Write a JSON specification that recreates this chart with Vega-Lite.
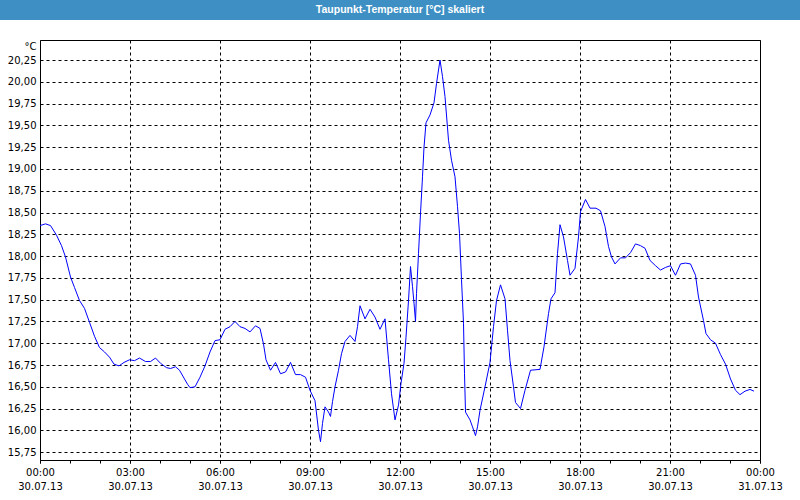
{
  "$schema": "https://vega.github.io/schema/vega-lite/v6.json",
  "padding": 0,
  "background": "#ffffff",
  "columns": 1,
  "spacing": 20,
  "align": "none",
  "config": {"font": "DejaVu Sans"},
  "datasets": {
    "taupunkt": [
      {"t": "2013-07-30T00:00", "v": 18.35},
      {"t": "2013-07-30T00:11", "v": 18.37},
      {"t": "2013-07-30T00:21", "v": 18.35},
      {"t": "2013-07-30T00:33", "v": 18.24},
      {"t": "2013-07-30T00:43", "v": 18.12},
      {"t": "2013-07-30T00:51", "v": 17.99},
      {"t": "2013-07-30T01:01", "v": 17.76},
      {"t": "2013-07-30T01:09", "v": 17.64},
      {"t": "2013-07-30T01:19", "v": 17.49},
      {"t": "2013-07-30T01:29", "v": 17.40},
      {"t": "2013-07-30T01:39", "v": 17.24},
      {"t": "2013-07-30T01:49", "v": 17.08},
      {"t": "2013-07-30T01:59", "v": 16.95},
      {"t": "2013-07-30T02:09", "v": 16.90},
      {"t": "2013-07-30T02:19", "v": 16.84},
      {"t": "2013-07-30T02:28", "v": 16.76},
      {"t": "2013-07-30T02:38", "v": 16.74},
      {"t": "2013-07-30T02:48", "v": 16.78},
      {"t": "2013-07-30T02:59", "v": 16.81},
      {"t": "2013-07-30T03:09", "v": 16.80},
      {"t": "2013-07-30T03:19", "v": 16.83},
      {"t": "2013-07-30T03:31", "v": 16.79},
      {"t": "2013-07-30T03:41", "v": 16.79},
      {"t": "2013-07-30T03:51", "v": 16.83},
      {"t": "2013-07-30T04:01", "v": 16.77},
      {"t": "2013-07-30T04:13", "v": 16.72},
      {"t": "2013-07-30T04:21", "v": 16.71},
      {"t": "2013-07-30T04:31", "v": 16.73},
      {"t": "2013-07-30T04:39", "v": 16.69},
      {"t": "2013-07-30T04:49", "v": 16.59},
      {"t": "2013-07-30T04:55", "v": 16.53},
      {"t": "2013-07-30T05:00", "v": 16.49},
      {"t": "2013-07-30T05:10", "v": 16.50},
      {"t": "2013-07-30T05:20", "v": 16.61},
      {"t": "2013-07-30T05:30", "v": 16.74},
      {"t": "2013-07-30T05:40", "v": 16.90},
      {"t": "2013-07-30T05:50", "v": 17.03},
      {"t": "2013-07-30T06:00", "v": 17.04},
      {"t": "2013-07-30T06:10", "v": 17.16},
      {"t": "2013-07-30T06:20", "v": 17.19},
      {"t": "2013-07-30T06:30", "v": 17.25},
      {"t": "2013-07-30T06:40", "v": 17.19},
      {"t": "2013-07-30T06:50", "v": 17.17},
      {"t": "2013-07-30T07:00", "v": 17.13},
      {"t": "2013-07-30T07:11", "v": 17.20},
      {"t": "2013-07-30T07:20", "v": 17.17},
      {"t": "2013-07-30T07:27", "v": 16.99},
      {"t": "2013-07-30T07:32", "v": 16.81},
      {"t": "2013-07-30T07:41", "v": 16.69},
      {"t": "2013-07-30T07:51", "v": 16.78},
      {"t": "2013-07-30T08:01", "v": 16.65},
      {"t": "2013-07-30T08:11", "v": 16.67},
      {"t": "2013-07-30T08:21", "v": 16.78},
      {"t": "2013-07-30T08:31", "v": 16.64},
      {"t": "2013-07-30T08:41", "v": 16.64},
      {"t": "2013-07-30T08:51", "v": 16.61},
      {"t": "2013-07-30T09:00", "v": 16.46},
      {"t": "2013-07-30T09:10", "v": 16.34},
      {"t": "2013-07-30T09:17", "v": 16.00},
      {"t": "2013-07-30T09:21", "v": 15.87},
      {"t": "2013-07-30T09:25", "v": 16.08},
      {"t": "2013-07-30T09:30", "v": 16.27},
      {"t": "2013-07-30T09:37", "v": 16.21},
      {"t": "2013-07-30T09:41", "v": 16.16},
      {"t": "2013-07-30T09:45", "v": 16.33},
      {"t": "2013-07-30T09:50", "v": 16.50},
      {"t": "2013-07-30T09:57", "v": 16.69},
      {"t": "2013-07-30T10:03", "v": 16.88},
      {"t": "2013-07-30T10:10", "v": 17.02},
      {"t": "2013-07-30T10:20", "v": 17.09},
      {"t": "2013-07-30T10:30", "v": 17.02},
      {"t": "2013-07-30T10:35", "v": 17.19},
      {"t": "2013-07-30T10:40", "v": 17.43},
      {"t": "2013-07-30T10:50", "v": 17.28},
      {"t": "2013-07-30T11:00", "v": 17.39},
      {"t": "2013-07-30T11:10", "v": 17.30},
      {"t": "2013-07-30T11:20", "v": 17.16},
      {"t": "2013-07-30T11:30", "v": 17.28},
      {"t": "2013-07-30T11:37", "v": 16.81},
      {"t": "2013-07-30T11:43", "v": 16.42},
      {"t": "2013-07-30T11:50", "v": 16.12},
      {"t": "2013-07-30T11:57", "v": 16.29},
      {"t": "2013-07-30T12:02", "v": 16.54},
      {"t": "2013-07-30T12:08", "v": 16.77},
      {"t": "2013-07-30T12:12", "v": 17.07},
      {"t": "2013-07-30T12:17", "v": 17.49},
      {"t": "2013-07-30T12:21", "v": 17.88},
      {"t": "2013-07-30T12:25", "v": 17.65},
      {"t": "2013-07-30T12:28", "v": 17.46},
      {"t": "2013-07-30T12:31", "v": 17.25},
      {"t": "2013-07-30T12:33", "v": 17.57},
      {"t": "2013-07-30T12:37", "v": 18.03},
      {"t": "2013-07-30T12:41", "v": 18.49},
      {"t": "2013-07-30T12:45", "v": 18.91},
      {"t": "2013-07-30T12:48", "v": 19.25},
      {"t": "2013-07-30T12:52", "v": 19.53},
      {"t": "2013-07-30T13:00", "v": 19.62},
      {"t": "2013-07-30T13:08", "v": 19.76},
      {"t": "2013-07-30T13:13", "v": 19.98},
      {"t": "2013-07-30T13:20", "v": 20.25},
      {"t": "2013-07-30T13:25", "v": 20.06},
      {"t": "2013-07-30T13:30", "v": 19.83},
      {"t": "2013-07-30T13:37", "v": 19.33},
      {"t": "2013-07-30T13:43", "v": 19.10},
      {"t": "2013-07-30T13:50", "v": 18.91},
      {"t": "2013-07-30T13:55", "v": 18.57},
      {"t": "2013-07-30T13:59", "v": 18.26},
      {"t": "2013-07-30T14:03", "v": 17.73},
      {"t": "2013-07-30T14:07", "v": 17.23},
      {"t": "2013-07-30T14:09", "v": 16.65},
      {"t": "2013-07-30T14:11", "v": 16.21},
      {"t": "2013-07-30T14:20", "v": 16.12},
      {"t": "2013-07-30T14:25", "v": 16.04},
      {"t": "2013-07-30T14:31", "v": 15.94},
      {"t": "2013-07-30T14:35", "v": 16.04},
      {"t": "2013-07-30T14:40", "v": 16.23},
      {"t": "2013-07-30T14:50", "v": 16.50},
      {"t": "2013-07-30T15:00", "v": 16.78},
      {"t": "2013-07-30T15:07", "v": 17.19},
      {"t": "2013-07-30T15:13", "v": 17.49},
      {"t": "2013-07-30T15:21", "v": 17.67},
      {"t": "2013-07-30T15:30", "v": 17.51},
      {"t": "2013-07-30T15:35", "v": 17.15},
      {"t": "2013-07-30T15:40", "v": 16.80},
      {"t": "2013-07-30T15:47", "v": 16.50},
      {"t": "2013-07-30T15:51", "v": 16.32},
      {"t": "2013-07-30T16:01", "v": 16.25},
      {"t": "2013-07-30T16:10", "v": 16.46},
      {"t": "2013-07-30T16:21", "v": 16.69},
      {"t": "2013-07-30T16:40", "v": 16.70},
      {"t": "2013-07-30T16:48", "v": 16.96},
      {"t": "2013-07-30T16:57", "v": 17.34},
      {"t": "2013-07-30T17:02", "v": 17.51},
      {"t": "2013-07-30T17:10", "v": 17.58},
      {"t": "2013-07-30T17:15", "v": 18.03},
      {"t": "2013-07-30T17:20", "v": 18.36},
      {"t": "2013-07-30T17:27", "v": 18.22},
      {"t": "2013-07-30T17:35", "v": 17.95},
      {"t": "2013-07-30T17:40", "v": 17.78},
      {"t": "2013-07-30T17:50", "v": 17.86},
      {"t": "2013-07-30T17:57", "v": 18.22},
      {"t": "2013-07-30T18:01", "v": 18.51},
      {"t": "2013-07-30T18:11", "v": 18.65},
      {"t": "2013-07-30T18:20", "v": 18.55},
      {"t": "2013-07-30T18:32", "v": 18.55},
      {"t": "2013-07-30T18:41", "v": 18.52},
      {"t": "2013-07-30T18:50", "v": 18.34},
      {"t": "2013-07-30T18:57", "v": 18.11},
      {"t": "2013-07-30T19:03", "v": 17.99},
      {"t": "2013-07-30T19:10", "v": 17.91},
      {"t": "2013-07-30T19:21", "v": 17.98},
      {"t": "2013-07-30T19:31", "v": 17.98},
      {"t": "2013-07-30T19:41", "v": 18.04},
      {"t": "2013-07-30T19:51", "v": 18.14},
      {"t": "2013-07-30T20:01", "v": 18.12},
      {"t": "2013-07-30T20:10", "v": 18.09},
      {"t": "2013-07-30T20:20", "v": 17.95},
      {"t": "2013-07-30T20:31", "v": 17.89},
      {"t": "2013-07-30T20:41", "v": 17.84},
      {"t": "2013-07-30T20:51", "v": 17.87},
      {"t": "2013-07-30T21:01", "v": 17.89},
      {"t": "2013-07-30T21:11", "v": 17.78},
      {"t": "2013-07-30T21:21", "v": 17.91},
      {"t": "2013-07-30T21:31", "v": 17.92},
      {"t": "2013-07-30T21:41", "v": 17.91},
      {"t": "2013-07-30T21:51", "v": 17.78},
      {"t": "2013-07-30T21:57", "v": 17.53},
      {"t": "2013-07-30T22:07", "v": 17.26},
      {"t": "2013-07-30T22:12", "v": 17.11},
      {"t": "2013-07-30T22:21", "v": 17.04},
      {"t": "2013-07-30T22:31", "v": 17.00},
      {"t": "2013-07-30T22:41", "v": 16.87},
      {"t": "2013-07-30T22:51", "v": 16.76},
      {"t": "2013-07-30T23:01", "v": 16.59},
      {"t": "2013-07-30T23:11", "v": 16.46},
      {"t": "2013-07-30T23:20", "v": 16.41},
      {"t": "2013-07-30T23:30", "v": 16.45},
      {"t": "2013-07-30T23:40", "v": 16.47},
      {"t": "2013-07-30T23:48", "v": 16.45}
    ]
  },
  "concat": [
    {
      "width": 800,
      "height": 20,
      "view": {"fill": "#3d8fc4", "stroke": null},
      "data": {"values": [{"title": "Taupunkt-Temperatur [°C] skaliert"}]},
      "mark": {"type": "text", "color": "#ffffff", "font": "Liberation Sans", "fontWeight": "bold", "fontSize": 10.5, "baseline": "middle", "align": "center"},
      "encoding": {"text": {"field": "title", "type": "nominal"}}
    },
    {
      "width": 760,
      "height": 420,
      "view": {"stroke": null, "fill": null},
      "data": {"name": "taupunkt"},
      "resolve": {"axis": {"x": "independent", "y": "independent"}},
      "layer": [
        {
          "mark": {"type": "line", "color": "#0000ff", "strokeWidth": 1},
          "encoding": {
            "x": {
              "field": "t",
              "type": "temporal",
              "scale": {"domain": [{"year": 2013, "month": 7, "date": 30, "hours": 0}, {"year": 2013, "month": 7, "date": 31, "hours": 0}], "nice": false, "range": [40, 760]},
              "axis": {
                "orient": "bottom",
                "title": null,
                "values": [
                  {"year": 2013, "month": 7, "date": 30, "hours": 0},
                  {"year": 2013, "month": 7, "date": 30, "hours": 3},
                  {"year": 2013, "month": 7, "date": 30, "hours": 6},
                  {"year": 2013, "month": 7, "date": 30, "hours": 9},
                  {"year": 2013, "month": 7, "date": 30, "hours": 12},
                  {"year": 2013, "month": 7, "date": 30, "hours": 15},
                  {"year": 2013, "month": 7, "date": 30, "hours": 18},
                  {"year": 2013, "month": 7, "date": 30, "hours": 21},
                  {"year": 2013, "month": 7, "date": 31, "hours": 0}
                ],
                "labelExpr": "[timeFormat(datum.value, '%H:%M'), timeFormat(datum.value, '%d.%m.%y')]",
                "labelAngle": 0,
                "labelOverlap": false,
                "labelFlush": false,
                "labelBound": false,
                "labelPadding": 4,
                "labelLineHeight": 14,
                "labelFontSize": 10,
                "labelColor": "#000000",
                "tickSize": 3,
                "tickColor": "#000000",
                "domainColor": "#000000",
                "grid": true,
                "gridColor": "#000000",
                "gridDash": [3, 3],
                "gridOpacity": 1
              }
            },
            "y": {
              "field": "v",
              "type": "quantitative",
              "scale": {"domain": [15.66, 20.48], "nice": false, "zero": false},
              "axis": {
                "orient": "left",
                "offset": -40,
                "values": [15.75, 16, 16.25, 16.5, 16.75, 17, 17.25, 17.5, 17.75, 18, 18.25, 18.5, 18.75, 19, 19.25, 19.5, 19.75, 20, 20.25],
                "labelExpr": "replace(format(datum.value, '.2f'), '.', ',')",
                "labelFontSize": 10,
                "labelColor": "#000000",
                "labelPadding": 4,
                "ticks": false,
                "domainColor": "#000000",
                "grid": true,
                "gridColor": "#000000",
                "gridDash": [3, 3],
                "gridOpacity": 1,
                "title": "°C",
                "titleAngle": 0,
                "titleAlign": "right",
                "titleBaseline": "middle",
                "titleX": -4,
                "titleY": 6,
                "titleFontSize": 10,
                "titleFontWeight": "normal",
                "titleColor": "#000000"
              }
            }
          }
        },
        {
          "mark": {"type": "line", "strokeOpacity": 0},
          "encoding": {
            "x": {
              "field": "t",
              "type": "temporal",
              "axis": {
                "orient": "bottom",
                "title": null,
                "values": [
                  {"year": 2013, "month": 7, "date": 30, "hours": 0},
                  {"year": 2013, "month": 7, "date": 30, "hours": 1},
                  {"year": 2013, "month": 7, "date": 30, "hours": 2},
                  {"year": 2013, "month": 7, "date": 30, "hours": 3},
                  {"year": 2013, "month": 7, "date": 30, "hours": 4},
                  {"year": 2013, "month": 7, "date": 30, "hours": 5},
                  {"year": 2013, "month": 7, "date": 30, "hours": 6},
                  {"year": 2013, "month": 7, "date": 30, "hours": 7},
                  {"year": 2013, "month": 7, "date": 30, "hours": 8},
                  {"year": 2013, "month": 7, "date": 30, "hours": 9},
                  {"year": 2013, "month": 7, "date": 30, "hours": 10},
                  {"year": 2013, "month": 7, "date": 30, "hours": 11},
                  {"year": 2013, "month": 7, "date": 30, "hours": 12},
                  {"year": 2013, "month": 7, "date": 30, "hours": 13},
                  {"year": 2013, "month": 7, "date": 30, "hours": 14},
                  {"year": 2013, "month": 7, "date": 30, "hours": 15},
                  {"year": 2013, "month": 7, "date": 30, "hours": 16},
                  {"year": 2013, "month": 7, "date": 30, "hours": 17},
                  {"year": 2013, "month": 7, "date": 30, "hours": 18},
                  {"year": 2013, "month": 7, "date": 30, "hours": 19},
                  {"year": 2013, "month": 7, "date": 30, "hours": 20},
                  {"year": 2013, "month": 7, "date": 30, "hours": 21},
                  {"year": 2013, "month": 7, "date": 30, "hours": 22},
                  {"year": 2013, "month": 7, "date": 30, "hours": 23},
                  {"year": 2013, "month": 7, "date": 31, "hours": 0}
                ],
                "labels": false,
                "grid": false,
                "domain": false,
                "ticks": true,
                "tickSize": 3,
                "tickColor": "#000000"
              }
            },
            "y": {
              "field": "v",
              "type": "quantitative",
              "axis": {
                "orient": "right",
                "title": null,
                "labels": false,
                "ticks": false,
                "grid": false,
                "domain": true,
                "domainColor": "#000000"
              }
            }
          }
        },
        {
          "mark": {"type": "line", "strokeOpacity": 0},
          "encoding": {
            "x": {
              "field": "t",
              "type": "temporal",
              "axis": {
                "orient": "top",
                "title": null,
                "labels": false,
                "ticks": false,
                "grid": false,
                "domain": true,
                "domainColor": "#000000"
              }
            },
            "y": {"field": "v", "type": "quantitative", "axis": null}
          }
        }
      ]
    }
  ]
}
